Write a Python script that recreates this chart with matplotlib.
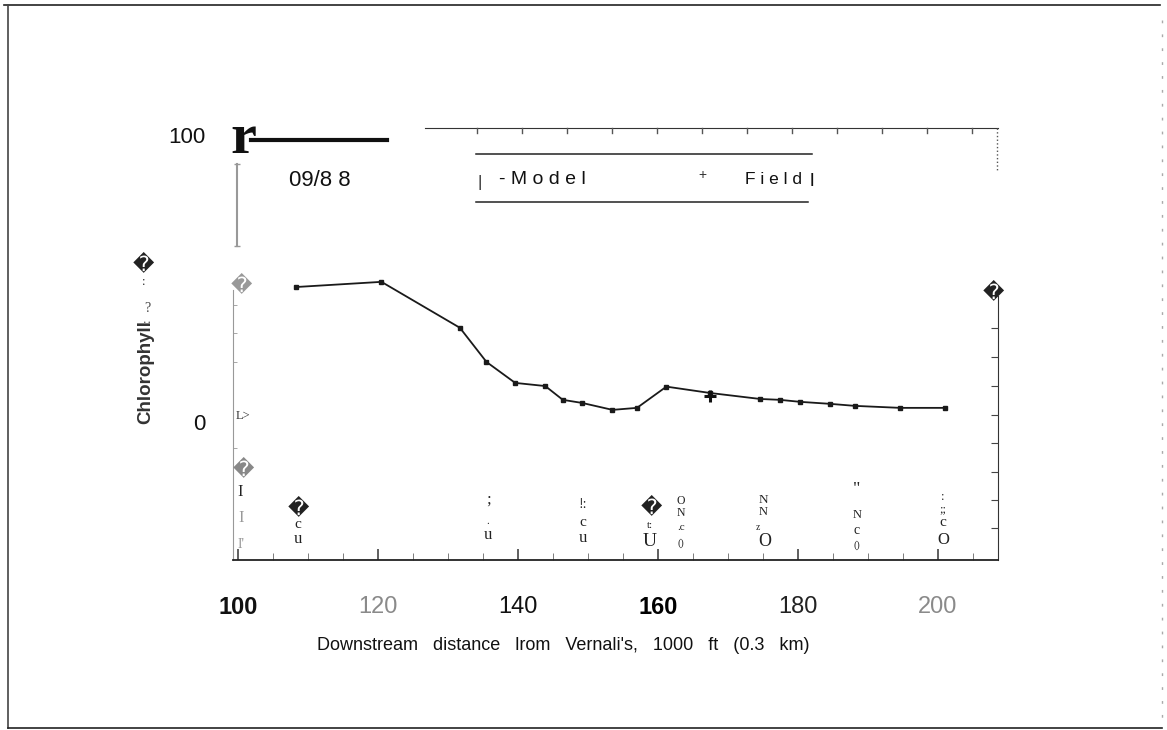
import matplotlib
matplotlib.use('Agg')
import matplotlib.pyplot as plt
from matplotlib.lines import Line2D

# ---------------------------------------------
#   data (09/88)
dist_model = [108.3, 120.5, 131.7, 135.5, 139.6, 143.9, 146.4, 149.2, 153.5, 157.0,
              161.2, 167.4, 174.6, 177.4, 180.3, 184.6, 188.1, 194.6, 201.0]
chl_model = [47.0, 48.8, 32.8, 20.9, 13.6, 12.5, 7.7, 6.6, 4.2, 4.9,
             12.3, 10.1, 8.0, 7.7, 7.0, 6.3, 5.6, 4.9, 4.9]
dist_field = [167.4]
chl_field = [9.1]

xticks = [100, 120, 140, 160, 180, 200]
xtick_labels = ['100', '120', '140', '160', '180', '200']
xminor = [105, 110, 115, 125, 130, 135, 145, 150, 155, 165, 170, 175,
          185, 190, 195, 205]
right_ticks = [-37.0, -27.2, -17.4, -7.3, 2.4, 12.5, 22.6, 32.8]
left_minor = [40.8, 31.0, 20.9, -9.1]

W, H = 1167, 730


def px(x, y):
    # pixel position -> figure fraction
    return x / W, 1 - y / H


fig = plt.figure(figsize=(W / 100, H / 100), dpi=100)
fig.patch.set_facecolor('white')

ax = fig.add_axes([233 / W, 1 - 560 / H, (998 - 233) / W, (560 - 128) / H])
ax.set_xlim(99.29, 208.57)
ax.set_ylim(-48.1, 102.4)

ax.plot(dist_model, chl_model, c='#1a1a1a', lw=1.3, marker='s', ms=3, mfc='#1a1a1a')
ax.plot(dist_field, chl_field, ls='none', marker='+', ms=9, mew=2.2, c='#111111')

# spines
ax.spines['bottom'].set_color('#222222')
ax.spines['bottom'].set_linewidth(1.3)
ax.spines['left'].set_color('#999999')
ax.spines['left'].set_bounds(-48.1, 46.0)
ax.spines['right'].set_color('#333333')
ax.spines['right'].set_bounds(-48.1, 44.0)
ax.spines['top'].set_color('#333333')
ax.spines['top'].set_bounds(126.7, 208.57)

# x axis ticks and labels
ax.set_xticks(xticks)
ax.set_xticklabels(xtick_labels)
ax.tick_params(axis='x', which='major', direction='in', length=8, width=1.2,
               color='#444444', pad=26)
ax.set_xticks(xminor, minor=True)
ax.tick_params(axis='x', which='minor', direction='in', length=5, color='#666666')
styles = [('bold', '#111111'), ('light', '#8a8a8a'), ('normal', '#111111'),
          ('bold', '#000000'), ('normal', '#222222'), ('light', '#8a8a8a')]
for lab, (wt, col) in zip(ax.get_xticklabels(), styles):
    lab.set_fontfamily('Liberation Sans')
    lab.set_fontsize(17)
    lab.set_fontweight(wt)
    lab.set_color(col)

# y axis: only 0 and 100 labelled on the left
ax.set_yticks([0, 100])
ax.set_yticklabels(['0', '100'], family='Liberation Sans', fontsize=16, color='#111111')
ax.tick_params(axis='y', which='major', length=0, pad=20)
ax.set_yticks(left_minor, minor=True)
ax.tick_params(axis='y', which='minor', direction='in', length=3, color='#999999')

axr = ax.twinx()
axr.set_ylim(ax.get_ylim())
axr.set_yticks(right_ticks)
axr.set_yticklabels([])
axr.tick_params(axis='y', direction='in', length=5, color='#444444')
for s in axr.spines.values():
    s.set_visible(False)

ax.set_facecolor('none')

# labels
fig.text(*px(563, 646), "Downstream   distance   lrom   Vernali's,   1000   ft   (0.3   km)",
         ha='center', va='center', family='Liberation Sans', fontsize=13, color='#111111')
fig.text(*px(146, 372), 'Chlorophyll', rotation=90, ha='center', va='center',
         family='Liberation Sans', fontsize=13.5, weight='bold', color='#333333')
fig.text(*px(147, 309), '?', ha='center', va='center',
         family='Liberation Serif', fontsize=10, color='#444444')
fig.text(*px(147, 320), ':', rotation=90, ha='center', va='center',
         family='Liberation Serif', fontsize=9, color='#444444')
fig.text(*px(320, 181), '09/8 8', ha='center', va='center',
         family='Liberation Sans', fontsize=16, color='#111111')
fig.text(*px(243, 139), 'r', ha='center', va='center',
         family='Liberation Serif', fontsize=42, weight='bold', color='#111111')

# legend box
fig.text(*px(480, 182), '|', ha='center', va='center', family='Liberation Sans',
         fontsize=12, color='#333333')
fig.text(*px(499, 180), '- M o d e l', ha='left', va='center', family='Liberation Sans',
         fontsize=14, color='#111111')
fig.text(*px(702, 175), '+', ha='center', va='center', family='Liberation Sans',
         fontsize=10, color='#333333')
fig.text(*px(745, 180), 'F i e l d', ha='left', va='center', family='Liberation Sans',
         fontsize=12.5, color='#111111')
fig.text(*px(812, 181), 'l', ha='center', va='center', family='Liberation Sans',
         fontsize=14, color='#111111')

# scan artefacts: replacement glyphs and stray station labels
for (x, y, c) in [(143, 264, '#222222'), (241, 285, '#999999'), (243, 469, '#888888'),
                  (298, 508, '#222222'), (651, 507, '#222222'), (993, 292, '#222222')]:
    fig.text(*px(x, y), '\ufffd', ha='center', va='center', family='DejaVu Sans',
             fontsize=15, color=c)

serif = dict(family='Liberation Serif', ha='center', va='center')
stray = [(144, 282, ':', 9, '#222222'), (243, 416, 'L>', 9, '#333333'),
         (240, 492, 'I', 12, '#222222'), (241, 518, 'I', 12, '#999999'),
         (241, 544, "I'", 10, '#999999'),
         (298, 524, 'c', 11, '#222222'), (298, 539, 'u', 12, '#222222'),
         (488, 500, ';', 12, '#222222'), (488, 521, '.', 8, '#222222'),
         (488, 535, 'u', 12, '#222222'),
         (583, 505, '!:', 10, '#222222'), (583, 523, 'c', 11, '#222222'),
         (583, 538, 'u', 12, '#222222'),
         (650, 525, 't:', 8, '#222222'), (650, 541, 'U', 14, '#222222'),
         (681, 501, 'O', 8.5, '#222222'), (681, 513, 'N', 8.5, '#222222'),
         (681, 528, '.c', 8, '#222222'), (681, 543, '()', 7.5, '#222222'),
         (763, 500, 'N', 9.5, '#222222'), (763, 512, 'N', 9, '#222222'),
         (758, 528, 'z', 7, '#222222'), (765, 542, 'O', 13, '#222222'),
         (857, 490, '"', 13, '#222222'), (857, 515, 'N', 9, '#222222'),
         (857, 530, 'c', 10, '#222222'), (857, 545, '()', 7.5, '#222222'),
         (943, 497, ':', 9, '#222222'), (943, 509, ';;', 9, '#222222'),
         (943, 523, 'c', 11, '#222222'), (943, 540, 'O', 12, '#222222')]
for (x, y, s, fs, col) in stray:
    fig.text(*px(x, y), s, fontsize=fs, color=col, **serif)


def fline(xs, ys, **kw):
    fx = [x / W for x in xs]
    fy = [1 - y / H for y in ys]
    fig.add_artist(Line2D(fx, fy, transform=fig.transFigure, **kw))


# heavy bar next to the 'r', legend rules, stray gray bracket
fline([251, 387], [140, 140], color='#111111', lw=3)
fline([476, 812], [154, 154], color='#222222', lw=1.1)
fline([476, 808], [202, 202], color='#222222', lw=1.1)
fline([237, 237], [164, 246], color='#999999', lw=1.5, marker='_', ms=5)
fline([997, 997], [128, 172], color='#555555', lw=1, ls=':')
for x in [477, 522, 567, 612, 657, 702, 747, 792, 837, 882, 927, 972]:
    fline([x, x], [128, 133], color='#555555', lw=1)

# page frame from the scan
fline([4, 1160], [5, 5], color='#222222', lw=1.2)
fline([8, 8], [5, 728], color='#444444', lw=1.2)
fline([8, 1162], [728, 728], color='#222222', lw=1.2)
fline([1162, 1162], [20, 728], color='#aaaaaa', lw=1, ls=(0, (2, 8)))

plt.savefig('out.png', dpi=100)
